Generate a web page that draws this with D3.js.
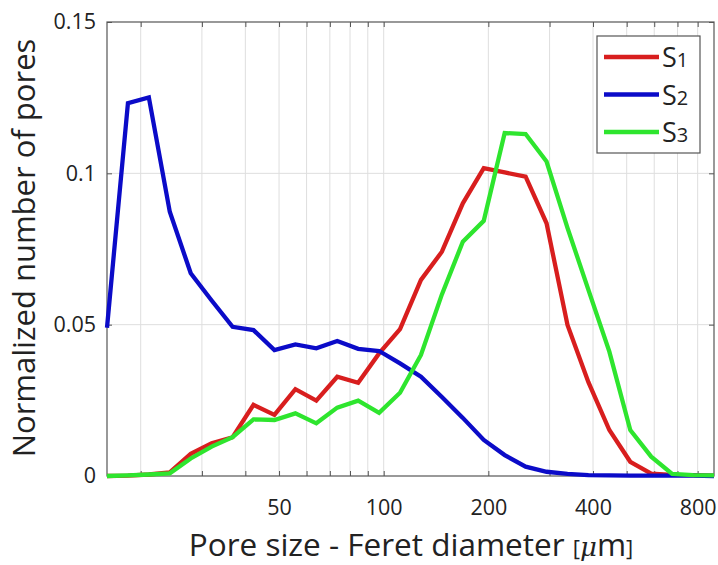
<!DOCTYPE html>
<html>
<head>
<meta charset="utf-8">
<script src="https://cdn.jsdelivr.net/npm/d3@7"></script>
<style>
  body { margin: 0; background: #fff; }
  text { font-family: "Open Sans", "Noto Sans", sans-serif; fill: #222; }
</style>
</head>
<body>
<script>
// bin centres, 5 per octave from 16 um
var sizes = [16, 18.38, 21.11, 24.25, 27.86, 32, 36.76, 42.22, 48.5, 55.72,
  64, 73.52, 84.45, 97.01, 111.43, 128, 147.03, 168.9, 194.01, 222.86,
  256, 294.07, 337.79, 388.02, 445.72, 512, 588.13, 675.59, 776.05, 891.44];

var s1 = [0, 0.0001, 0.0005, 0.0012, 0.0073, 0.0108, 0.0128, 0.0235, 0.0202, 0.0287,
  0.0249, 0.0328, 0.0308, 0.0405, 0.0485, 0.0648, 0.0741, 0.0901, 0.1017, 0.1003,
  0.0989, 0.0835, 0.0499, 0.031, 0.0152, 0.0047, 0.0008, 0.0004, 0.0003, 0.0001];

var s2 = [0.049, 0.1232, 0.1251, 0.0873, 0.067, 0.058, 0.0493, 0.0482, 0.0416, 0.0435,
  0.0422, 0.0446, 0.042, 0.0413, 0.0372, 0.0328, 0.0261, 0.0192, 0.0119, 0.0069,
  0.0031, 0.0014, 0.0007, 0.0003, 0.0002, 0.0001, 0.0001, 0.0001, 0.0001, 0];

var s3 = [0, 0.0002, 0.0005, 0.0009, 0.0058, 0.0097, 0.0128, 0.0187, 0.0185, 0.0207,
  0.0174, 0.0226, 0.0249, 0.0209, 0.0275, 0.040, 0.060, 0.0774, 0.0843, 0.1133,
  0.113, 0.1039, 0.082, 0.0615, 0.0411, 0.0152, 0.0064, 0.0007, 0.0003, 0.0002];

var seriesNames = ['S1', 'S2', 'S3'];
var seriesColors = ['#d81e1e', '#0b0bc8', '#2ee52e'];

var xMinor = [20, 30, 40, 50, 60, 70, 80, 90, 100, 200, 300, 400, 500, 600, 700, 800];
var xLabels = [50, 100, 200, 400, 800];
var yTicks = [0, 0.05, 0.1, 0.15];
var yTickLabels = ['0', '0.05', '0.1', '0.15'];

var width = 718, height = 565;
var margin = {left: 107, right: 4, top: 22, bottom: 89};

var svg = d3.select('body').append('svg')
  .attr('width', width)
  .attr('height', height);

var x = d3.scaleLog()
  .domain([16, 891.44])
  .range([margin.left, width - margin.right]);

var y = d3.scaleLinear()
  .domain([0, 0.15])
  .range([height - margin.bottom, margin.top]);

var x0 = x.range()[0], x1 = x.range()[1];
var y0 = y.range()[0], y1 = y.range()[1];

// grid
svg.append('g').selectAll('line')
  .data(xMinor)
  .enter().append('line')
  .attr('x1', function(d) { return x(d); })
  .attr('x2', function(d) { return x(d); })
  .attr('y1', y0).attr('y2', y1)
  .attr('stroke', '#dedede').attr('stroke-width', 1);

svg.append('g').selectAll('line')
  .data([0.05, 0.1])
  .enter().append('line')
  .attr('x1', x0).attr('x2', x1)
  .attr('y1', function(d) { return y(d); })
  .attr('y2', function(d) { return y(d); })
  .attr('stroke', '#dedede').attr('stroke-width', 1);

// axes, ticks pointing inward on all four sides
var bottomAxis = d3.axisBottom(x).tickValues(xMinor).tickSize(-5)
  .tickFormat(function(d) { return xLabels.indexOf(d) >= 0 ? d : ''; });
var topAxis = d3.axisTop(x).tickValues(xMinor).tickSize(-5).tickFormat('');
var leftAxis = d3.axisLeft(y).tickValues(yTicks).tickSize(-5)
  .tickFormat(function(d, i) { return yTickLabels[i]; });
var rightAxis = d3.axisRight(y).tickValues(yTicks).tickSize(-5).tickFormat('');

function styleAxis(g) {
  g.select('.domain').attr('stroke', '#555').attr('stroke-width', 1.2);
  g.selectAll('.tick line').attr('stroke', '#555');
  g.selectAll('.tick text').attr('fill', '#222')
    .style('font-family', '"Open Sans", sans-serif').style('font-size', '21.5px');
}

svg.append('g').attr('transform', 'translate(0,' + y0 + ')').call(bottomAxis).call(styleAxis)
  .selectAll('.tick text').attr('dy', '0.71em').attr('y', 24);
svg.append('g').attr('transform', 'translate(0,' + y1 + ')').call(topAxis).call(styleAxis);
svg.append('g').attr('transform', 'translate(' + x0 + ',0)').call(leftAxis).call(styleAxis)
  .selectAll('.tick text').attr('x', -11);
svg.append('g').attr('transform', 'translate(' + x1 + ',0)').call(rightAxis).call(styleAxis);

svg.selectAll('.domain').attr('d', null);
svg.append('rect')
  .attr('x', x0).attr('y', y1)
  .attr('width', x1 - x0).attr('height', y0 - y1)
  .attr('fill', 'none').attr('stroke', '#555').attr('stroke-width', 1.2);

// lines
var line = d3.line()
  .x(function(d, i) { return x(sizes[i]); })
  .y(function(d) { return y(d); });

[s1, s2, s3].forEach(function(s, k) {
  svg.append('path')
    .datum(s)
    .attr('d', line)
    .attr('fill', 'none')
    .attr('stroke', seriesColors[k])
    .attr('stroke-width', 4.3)
    .attr('stroke-linejoin', 'miter');
});

// legend
var legend = svg.append('g').attr('transform', 'translate(597,36)');
legend.append('rect')
  .attr('width', 103).attr('height', 117)
  .attr('fill', '#fff').attr('stroke', '#555').attr('stroke-width', 1.2);

seriesNames.forEach(function(name, k) {
  var ly = 21 + k * 37.5;
  legend.append('line')
    .attr('x1', 7).attr('x2', 62)
    .attr('y1', ly).attr('y2', ly)
    .attr('stroke', seriesColors[k]).attr('stroke-width', 4.3);
  var t = legend.append('text')
    .attr('x', 65).attr('y', ly + 10)
    .style('font-size', '27px');
  t.append('tspan').text(name.charAt(0));
  t.append('tspan').style('font-size', '20px').text(name.charAt(1));
});

// axis titles
var xt = svg.append('text')
  .attr('x', 411).attr('y', 556)
  .attr('text-anchor', 'middle')
  .style('font-size', '31.5px');
xt.append('tspan').text('Pore size - Feret diameter ');
xt.append('tspan').style('font-size', '22px').text('[');
xt.append('tspan').style('font-family', '"DejaVu Serif", serif').style('font-style', 'italic').style('font-size', '26px').text('μ');
xt.append('tspan').text('m');
xt.append('tspan').style('font-size', '22px').text(']');

svg.append('text')
  .attr('transform', 'translate(35,248) rotate(-90)')
  .attr('text-anchor', 'middle')
  .style('font-size', '31px')
  .text('Normalized number of pores');
</script>
</body>
</html>
